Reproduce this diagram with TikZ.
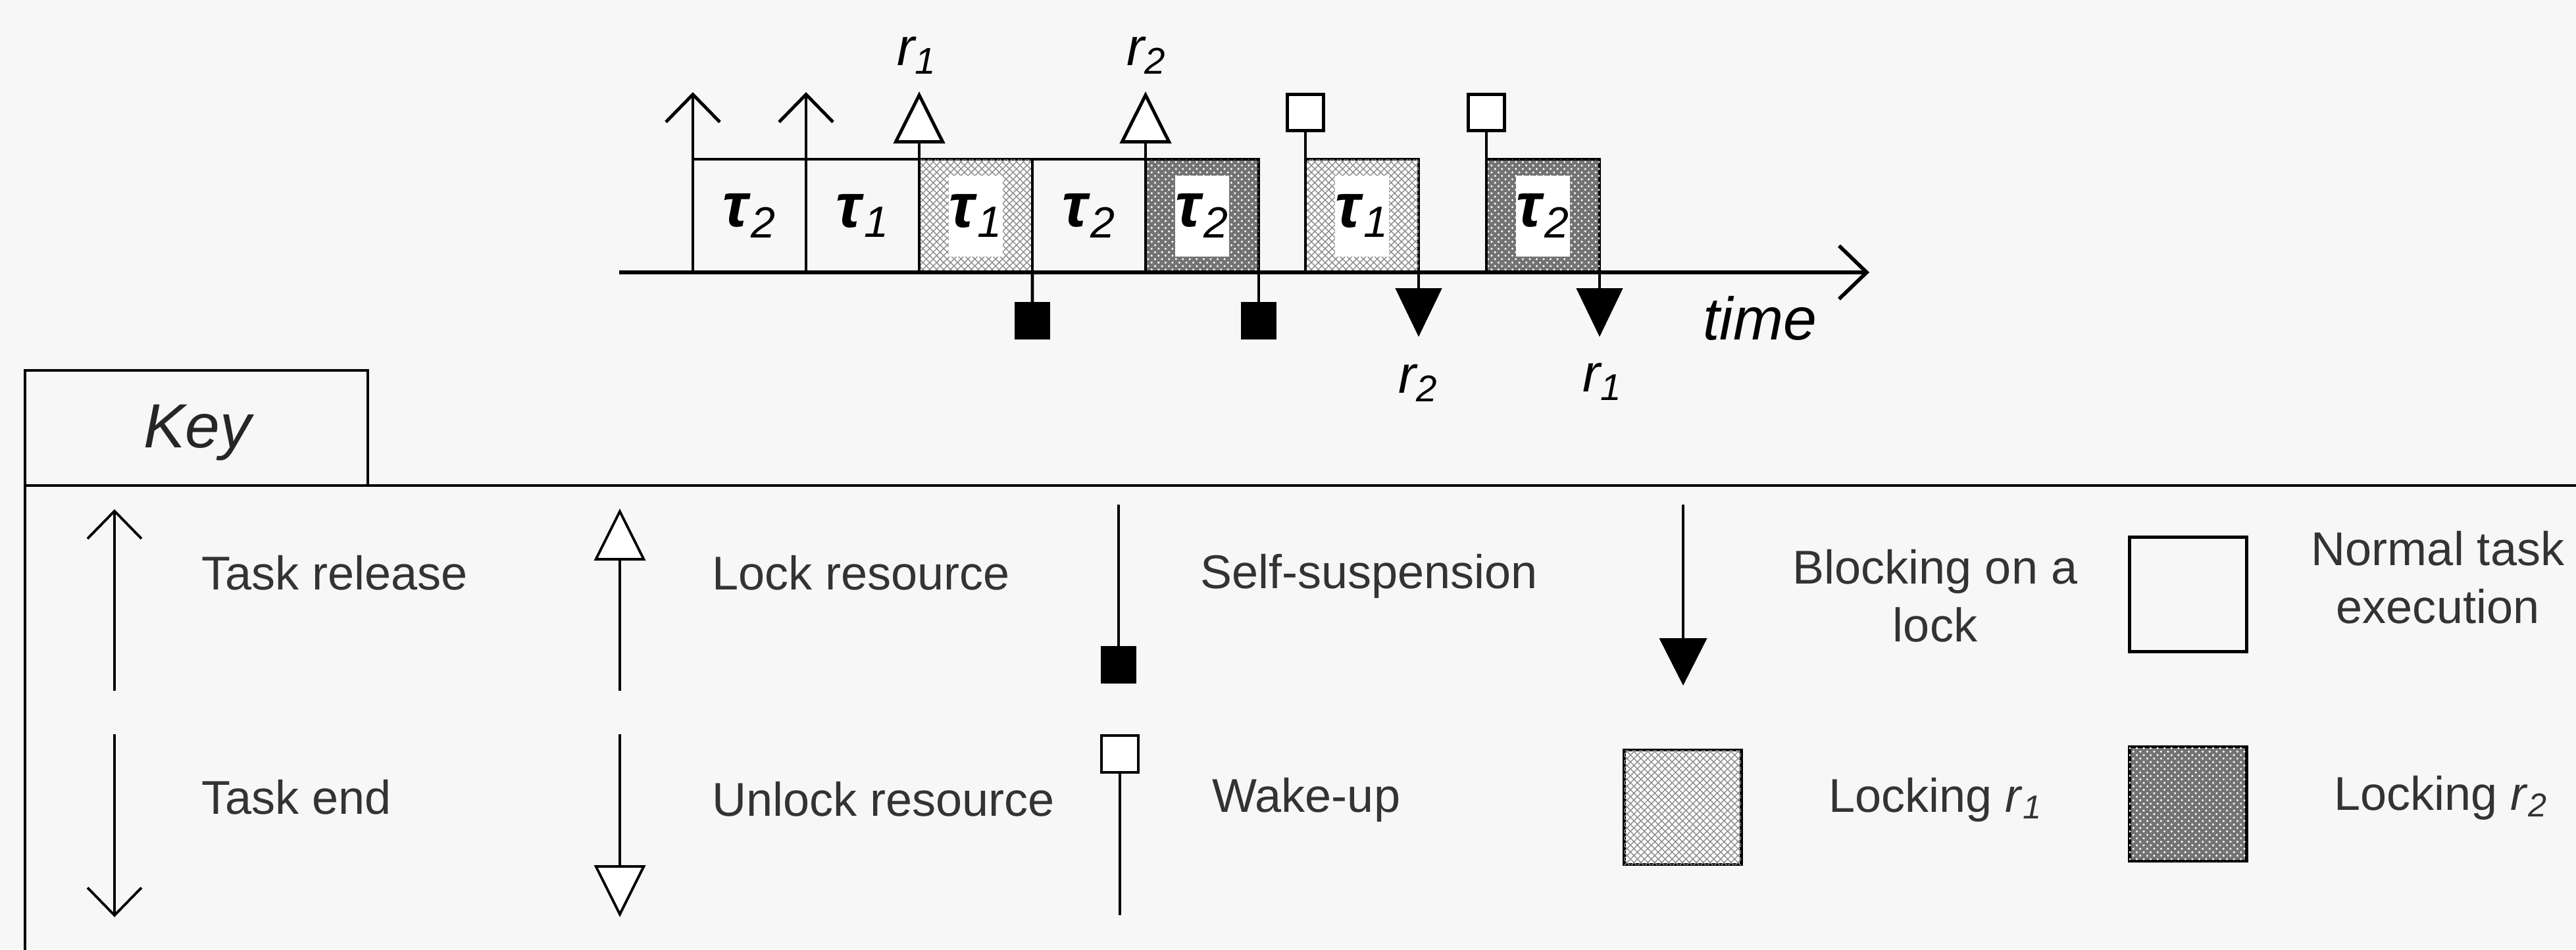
\documentclass[tikz,border=0pt]{standalone}
\usepackage{fontspec}
\setmainfont{Liberation Sans}
\usetikzlibrary{arrows.meta,patterns,positioning}

\begin{document}
\begin{tikzpicture}
  [x=1cm, y=-1cm, line width=1.4pt, font=\fontsize{20.5}{25}\selectfont,
   job/.style={draw, line width=1.4pt, anchor=south west, inner sep=0pt, outer sep=0pt,
     minimum width=1.72cm, minimum height=1.72cm},
   runjob/.style={job},
   runrone/.style={job, fill=white, postaction={pattern=crosshatch, pattern color=black!45}},
   runrtwo/.style={job, fill=black!55, postaction={pattern=crosshatch dots, pattern color=white}},
   tau/.style={inner sep=0pt, font=\fontsize{27}{27}\selectfont},
   pattau/.style={tau, fill=white, minimum width=0.8cm, minimum height=1.23cm},
   res/.style={anchor=base, inner sep=0pt, font=\fontsize{23}{23}\selectfont\itshape},
   release/.style={-{Straight Barb[length=4.2mm, width=8.2mm]}},
   lockarrow/.style={-{Triangle[length=7.9mm, width=7.8mm, fill=white]}},
   suspend/.style={-{Square[length=5.7mm, width=5.4mm]}},
   wakeup/.style={-{Square[length=6mm, width=6mm, fill=white]}},
   blocked/.style={-{Triangle[length=7.4mm, width=7mm]}},
   keyline/.style={line width=1.1pt},
   keytext/.style={anchor=base west, inner sep=0pt, text=black!80},
   keybox/.style={draw, line width=1.4pt, minimum width=1.78cm, minimum height=1.74cm,
     inner sep=0pt, outer sep=0pt}]

  \useasboundingbox (0,0) rectangle (39.15,14.43);
  \fill[black!3] (0,0) rectangle (39.15,14.43);

  % schedule of the two tasks
  \node[runjob] (j1) at (10.53,4.14) {};
  \node[runjob] (j2) at (12.25,4.14) {};
  \node[runrone] (j3) at (13.97,4.14) {};
  \node[runjob] (j4) at (15.69,4.14) {};
  \node[runrtwo] (j5) at (17.41,4.14) {};
  \node[runrone] (j6) at (19.84,4.14) {};
  \node[runrtwo] (j7) at (22.59,4.14) {};

  \node[tau] (l1) at (j1) {\textbf{\textit{τ}}\textsubscript{\textit{2}}};
  \node[tau] (l2) at (j2) {\textbf{\textit{τ}}\textsubscript{\textit{1}}};
  \node[pattau] (l3) at (j3) {\textbf{\textit{τ}}\textsubscript{\textit{1}}};
  \node[tau] (l4) at (j4) {\textbf{\textit{τ}}\textsubscript{\textit{2}}};
  \node[pattau] (l5) at (j5) {\textbf{\textit{τ}}\textsubscript{\textit{2}}};
  \node[pattau] (l6) at (j6) {\textbf{\textit{τ}}\textsubscript{\textit{1}}};
  \node[pattau] (l7) at (j7) {\textbf{\textit{τ}}\textsubscript{\textit{2}}};

  \coordinate (t0) at (9.41,4.14);
  \coordinate (t1) at (28.41,4.14);
  \draw[line width=1.6pt, -{Straight Barb[length=4.2mm, width=8.1mm]}] (t0) -- (t1);
  \node[anchor=base west, inner sep=0pt, font=\fontsize{26}{26}\selectfont\itshape] (time) at (25.86,5.16) {time};

  % releases, locks, suspensions and blocking
  \coordinate (rel1) at (10.53,1.40);
  \coordinate (rel2) at (12.25,1.40);
  \draw[release] (j1.south west) -- (rel1);
  \draw[release] (j2.south west) -- (rel2);

  \coordinate (lk1) at (13.97,1.39);
  \coordinate (lk2) at (17.41,1.39);
  \draw[lockarrow] (j3.south west) -- (lk1);
  \draw[lockarrow] (j5.south west) -- (lk2);
  \node[res] (lk1r) at (13.94,0.99) {r\textsubscript{1}};
  \node[res] (lk2r) at (17.43,0.99) {r\textsubscript{2}};

  \coordinate (ss1) at (15.69,5.16);
  \coordinate (ss2) at (19.13,5.16);
  \draw[suspend] (j3.south east) -- (ss1);
  \draw[suspend] (j5.south east) -- (ss2);

  \coordinate (wk1) at (19.84,1.41);
  \coordinate (wk2) at (22.59,1.41);
  \draw[wakeup] (j6.south west) -- (wk1);
  \draw[wakeup] (j7.south west) -- (wk2);

  \coordinate (bl1) at (21.56,5.12);
  \coordinate (bl2) at (24.31,5.12);
  \draw[blocked] (j6.south east) -- (bl1);
  \draw[blocked] (j7.south east) -- (bl2);
  \node[res] (bl1r) at (21.56,5.97) {r\textsubscript{2}};
  \node[res] (bl2r) at (24.36,5.95) {r\textsubscript{1}};

  % key frame
  \draw (0.38,14.8) -- (0.38,5.63) -- (5.59,5.63) -- (5.59,7.38);
  \draw (0.38,7.38) -- (39.4,7.38);
  \node[anchor=base, inner sep=0pt, font=\fontsize{27}{27}\selectfont\itshape, text=black!85] (key) at (3.00,6.80) {Key};

  % key symbols
  \coordinate (kr0) at (1.74,10.50);
  \coordinate (kr1) at (1.74,7.74);
  \coordinate (ke0) at (1.74,11.16);
  \coordinate (ke1) at (1.74,13.94);
  \draw[keyline, release] (kr0) -- (kr1);
  \draw[keyline, release] (ke0) -- (ke1);

  \coordinate (kl0) at (9.42,10.50);
  \coordinate (kl1) at (9.42,7.73);
  \coordinate (ku0) at (9.42,11.16);
  \coordinate (ku1) at (9.42,13.94);
  \draw[keyline, lockarrow] (kl0) -- (kl1);
  \draw[keyline, lockarrow] (ku0) -- (ku1);

  \coordinate (ks0) at (17.00,7.67);
  \coordinate (ks1) at (17.00,10.39);
  \coordinate (kw0) at (17.02,13.91);
  \coordinate (kw1) at (17.02,11.16);
  \draw[keyline, suspend] (ks0) -- (ks1);
  \draw[keyline, wakeup] (kw0) -- (kw1);

  \coordinate (kb0) at (25.58,7.67);
  \coordinate (kb1) at (25.58,10.42);
  \draw[keyline, -{Triangle[length=7.2mm, width=7.2mm]}] (kb0) -- (kb1);

  \node[keybox] (kn) at (33.25,9.035) {};
  \node[keybox, fill=white, postaction={pattern=crosshatch, pattern color=black!45}] (kone) at (25.57,12.27) {};
  \node[keybox, fill=black!55, postaction={pattern=crosshatch dots, pattern color=white}] (ktwo) at (33.25,12.22) {};

  % key texts
  \node[keytext] (trel) at (3.04,8.96) {Task release};
  \node[keytext] (tend) at (3.04,12.37) {Task end};
  \node[keytext] (tlock) at (10.80,8.96) {Lock resource};
  \node[keytext] (tunlock) at (10.80,12.40) {Unlock resource};
  \node[keytext] (tsusp) at (18.22,8.94) {Self-suspension};
  \node[keytext] (twake) at (18.40,12.34) {Wake-up};
  \node[anchor=north, align=center, inner sep=0pt, text=black!80] (tblock) at (29.41,8.33) {Blocking on a\\lock};
  \node[anchor=north, align=center, inner sep=0pt, text=black!80] (tnorm) at (37.05,8.05) {Normal task\\execution};
  \node[keytext] (tlk1) at (27.77,12.34) {Locking \textit{r}\textsubscript{\textit{1}}};
  \node[keytext] (tlk2) at (35.45,12.31) {Locking \textit{r}\textsubscript{\textit{2}}};
\end{tikzpicture}
\end{document}
